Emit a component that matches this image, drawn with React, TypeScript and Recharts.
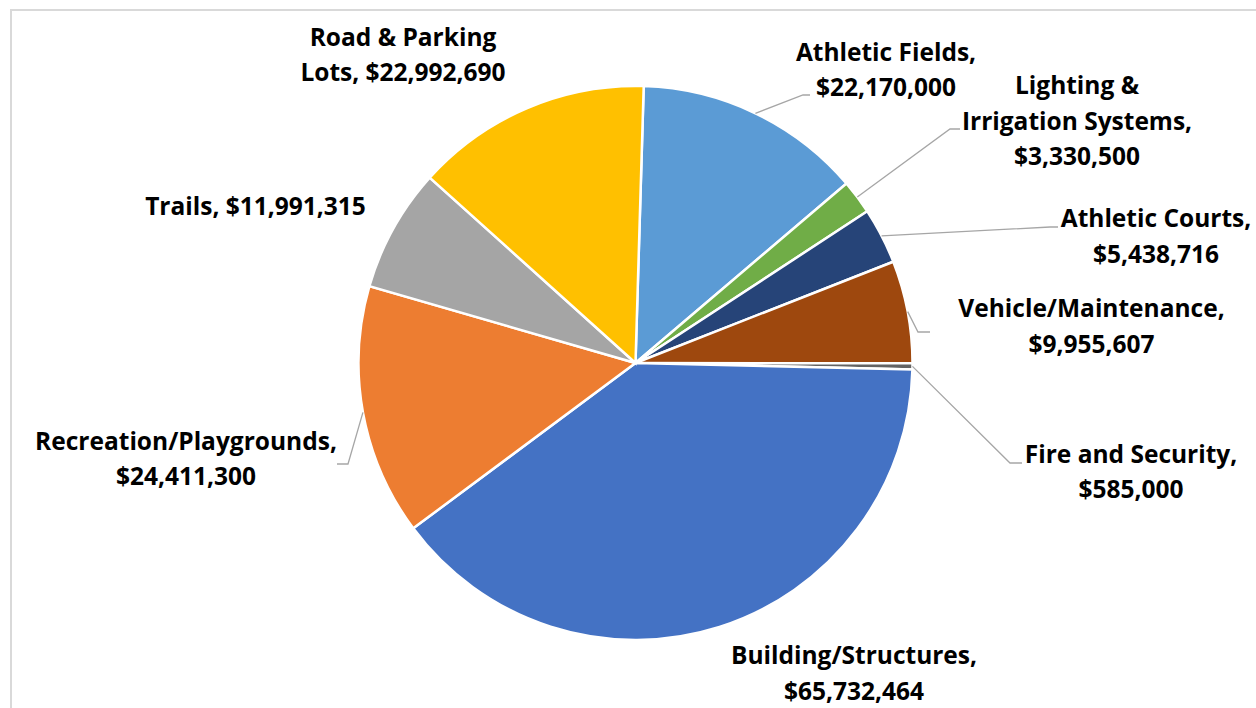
import React from "react";
import { PieChart, Pie, Cell } from "recharts";

// clockwise from 12 o'clock
const categories = [
  "Athletic Fields",
  "Lighting & Irrigation Systems",
  "Athletic Courts",
  "Vehicle/Maintenance",
  "Fire and Security",
  "Building/Structures",
  "Recreation/Playgrounds",
  "Trails",
  "Road & Parking Lots",
];

const amounts = [
  22170000, 3330500, 5438716, 9955607, 585000, 65732464, 24411300, 11991315,
  22992690,
];

const colors = [
  "#5B9BD5",
  "#70AD47",
  "#264478",
  "#9E480E",
  "#636363",
  "#4472C4",
  "#ED7D31",
  "#A5A5A5",
  "#FFC000",
];

// label placement, relative to the pie centre (Excel's manual label positions)
type LabelLayout = {
  dx: number;
  dy: number;
  wrap: number[];
  leader?: { x: number; y: number; len: number };
};

const labelLayout: LabelLayout[] = [
  { dx: 250.5, dy: -293.5, wrap: [2, 1], leader: { x: 167.5, y: -268, len: 7 } },
  { dx: 441.5, dy: -242.5, wrap: [2, 2, 1], leader: { x: 314.5, y: -234, len: 10 } },
  { dx: 520.5, dy: -127, wrap: [2, 1], leader: { x: 414.5, y: -136, len: 8 } },
  { dx: 456, dy: -37, wrap: [1, 1], leader: { x: 282.5, y: -31, len: 12 } },
  { dx: 495.5, dy: 108.5, wrap: [3, 1], leader: { x: 374.5, y: 100, len: 12 } },
  { dx: 218.5, dy: 310, wrap: [1, 1] },
  { dx: -449.5, dy: 95.5, wrap: [1, 1], leader: { x: -287.5, y: 101, len: -11 } },
  { dx: -380, dy: -157, wrap: [2] },
  { dx: -232.5, dy: -308.5, wrap: [3, 2] },
];

const data = categories.map((name, i) => ({ name, value: amounts[i] }));

const CX = 635.5;
const CY = 363;
const RADIUS = 277;
const START = 88.3;
const LINE_PITCH = 35.5;
const RAD = Math.PI / 180;

function wrapText(text: string, wrap: number[]) {
  const words = text.split(" ");
  const lines: string[] = [];
  let k = 0;
  wrap.forEach((n) => {
    lines.push(words.slice(k, k + n).join(" "));
    k += n;
  });
  return lines;
}

const renderLabel = (props: any) => {
  const { index, midAngle, name, value } = props;
  const cx = Number(props.cx);
  const cy = Number(props.cy);
  const r = Number(props.outerRadius);
  const layout = labelLayout[index];
  const text = `${name}, $${Number(value).toLocaleString("en-US")}`;
  const lines = wrapText(text, layout.wrap);
  const tx = cx + layout.dx;
  const ty = cy + layout.dy;

  let leader = null;
  if (layout.leader) {
    const sx = cx + r * Math.cos(-midAngle * RAD);
    const sy = cy + r * Math.sin(-midAngle * RAD);
    const ex = cx + layout.leader.x;
    const ey = cy + layout.leader.y;
    leader = (
      <polyline
        points={`${sx},${sy} ${ex},${ey} ${ex + layout.leader.len},${ey}`}
        fill="none"
        stroke="#A6A6A6"
        strokeWidth={1.3}
      />
    );
  }

  return (
    <g key={`label-${index}`}>
      {leader}
      <text
        textAnchor="middle"
        fontFamily="'Open Sans', 'Noto Sans', sans-serif"
        fontWeight={700}
        fontSize={24.5}
        fill="#000"
      >
        {lines.map((line, i) => (
          <tspan
            key={i}
            x={tx}
            y={ty + (i - (lines.length - 1) / 2) * LINE_PITCH + 9}
          >
            {line}
          </tspan>
        ))}
      </text>
    </g>
  );
};

export default function App() {
  return (
    <div
      style={{
        position: "fixed",
        left: 0,
        top: 0,
        width: 1256,
        height: 708,
        overflow: "hidden",
        background: "#fff",
      }}
    >
      <div
        style={{
          position: "absolute",
          left: 10,
          top: 9,
          width: 1256,
          height: 708,
          borderTop: "2px solid #D9D9D9",
          borderLeft: "2px solid #D9D9D9",
        }}
      />
      <div style={{ position: "absolute", left: 0, top: 0 }}>
        <PieChart
          width={1256}
          height={708}
          margin={{ top: 0, right: 0, bottom: 0, left: 0 }}
        >
          <Pie
            data={data}
            dataKey="value"
            nameKey="name"
            cx={CX}
            cy={CY}
            outerRadius={RADIUS}
            startAngle={START}
            endAngle={START - 360}
            stroke="#fff"
            strokeWidth={2.5}
            label={renderLabel}
            labelLine={false}
            isAnimationActive={false}
          >
            {data.map((d, i) => (
              <Cell key={d.name} fill={colors[i]} />
            ))}
          </Pie>
        </PieChart>
      </div>
    </div>
  );
}
